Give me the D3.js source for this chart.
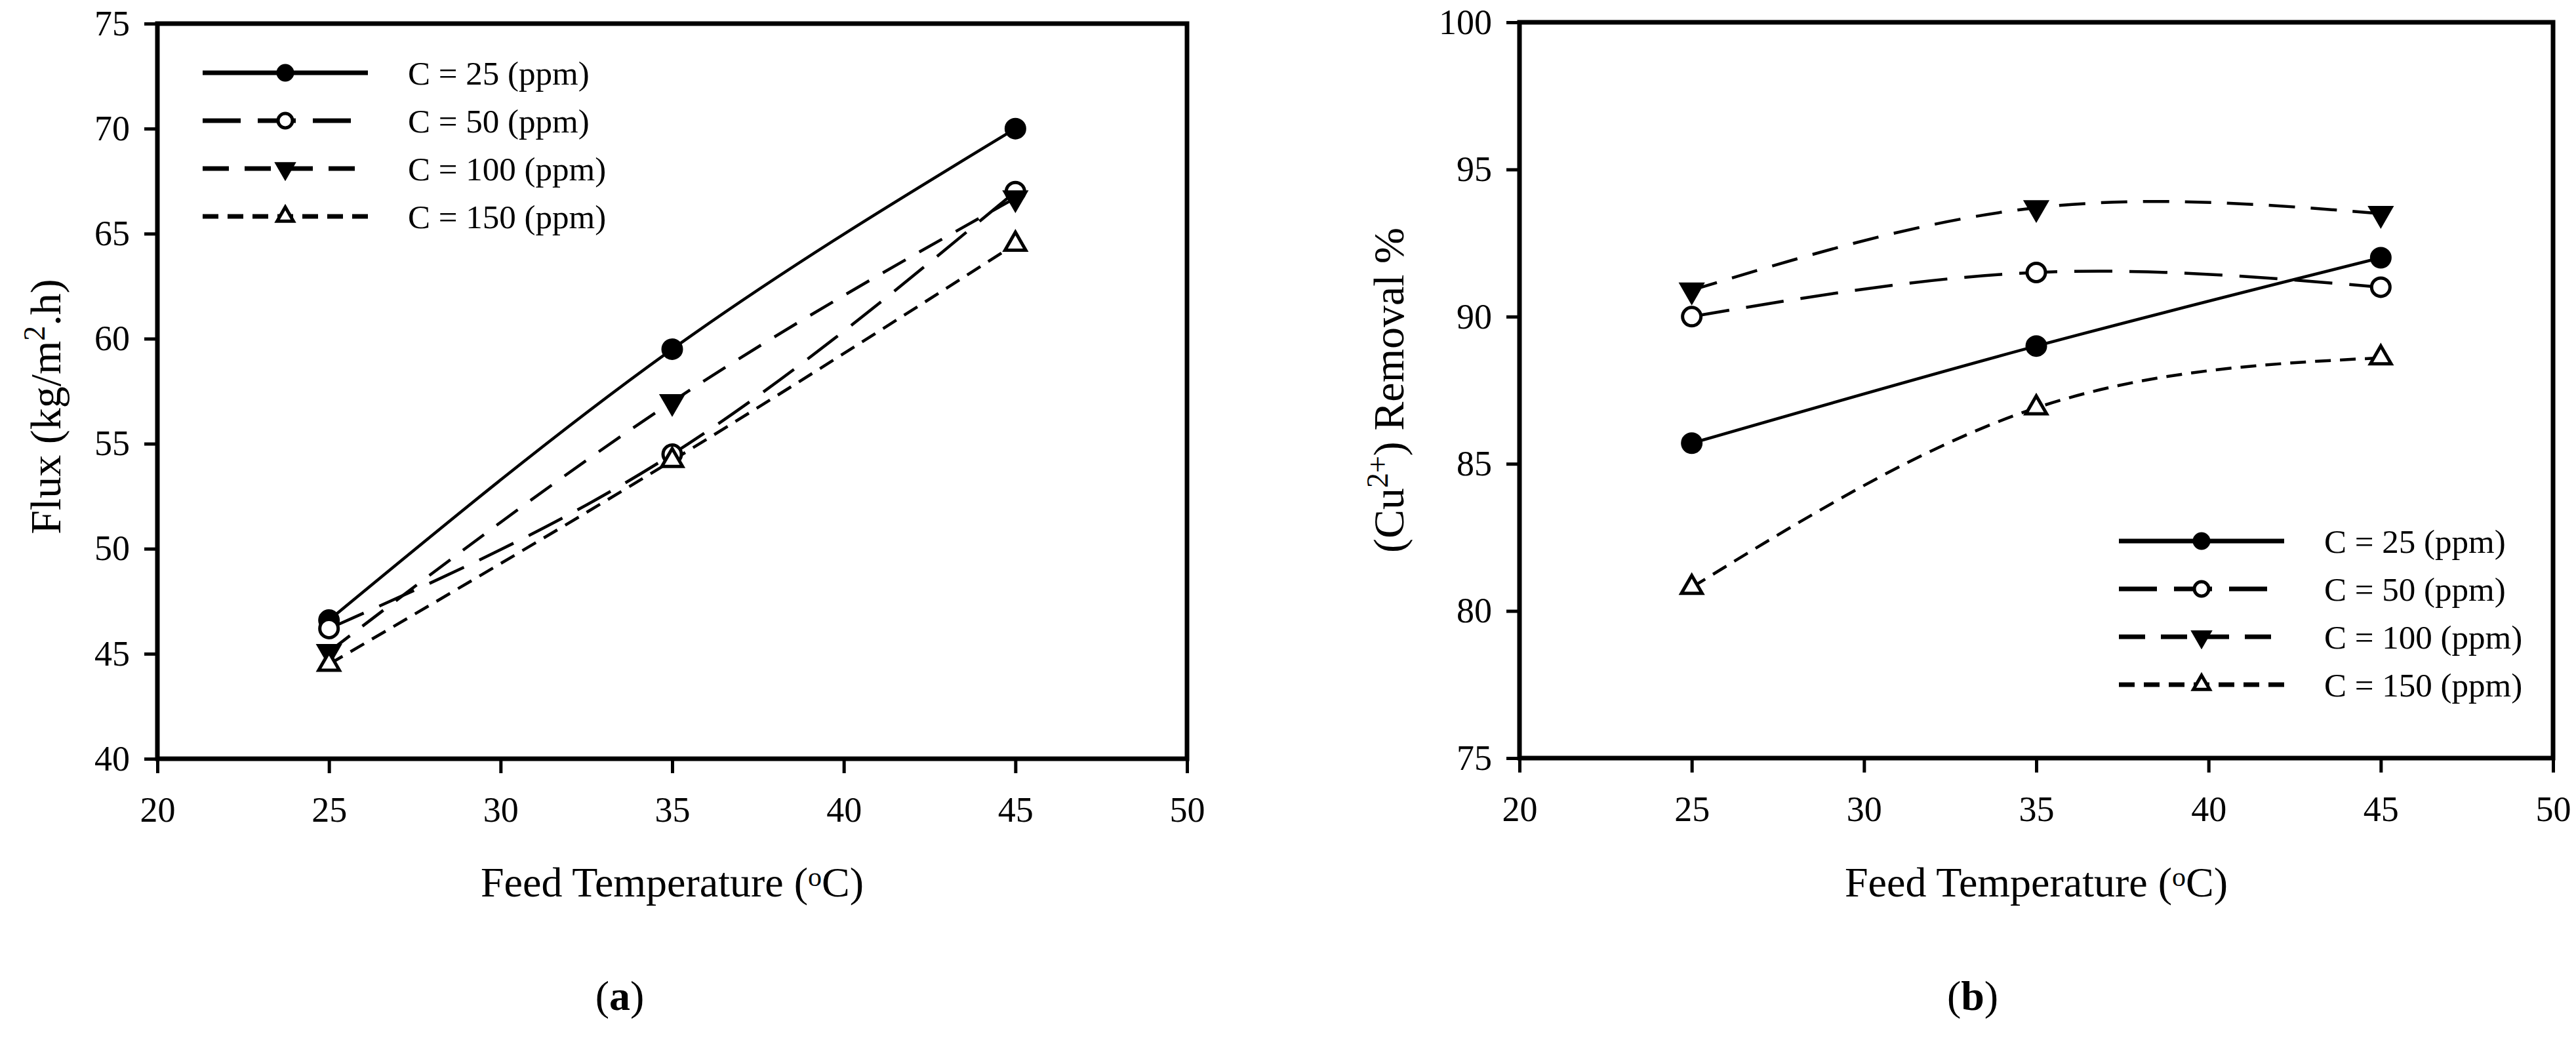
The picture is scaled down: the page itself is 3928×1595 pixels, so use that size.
<!DOCTYPE html>
<html>
<head>
<meta charset="utf-8">
<script src="https://d3js.org/d3.v7.min.js"></script>
<style>
  body { margin: 0; background: #fff; }
  svg { display: block; }
  text { font-family: "Liberation Serif", "Times New Roman", serif; fill: #000; }
</style>
</head>
<body>
<div id="graph"></div>
<script>
// feed temperatures (°C)
var temps = [25, 35, 45];
var seriesNames = ["C = 25 (ppm)", "C = 50 (ppm)", "C = 100 (ppm)", "C = 150 (ppm)"];

// (a) flux, kg/m2.h
var fluxC25  = [46.6, 59.5, 70.0];
var fluxC50  = [46.2, 54.5, 67.0];
var fluxC100 = [45.1, 57.0, 66.7];
var fluxC150 = [44.5, 54.2, 64.5];

// (b) Cu2+ removal %
var remC25  = [85.7, 89.0, 92.0];
var remC50  = [90.0, 91.5, 91.0];
var remC100 = [90.9, 93.7, 93.5];
var remC150 = [80.8, 86.9, 88.6];

var xTicks = [20, 25, 30, 35, 40, 45, 50];
var fluxTicks = [40, 45, 50, 55, 60, 65, 70, 75];
var remTicks = [75, 80, 85, 90, 95, 100];

// line / marker style per series
var styles = [
  {dash: null,    marker: "circle",  fill: "#000"},
  {dash: "58,26", marker: "circle",  fill: "#fff"},
  {dash: "40,24", marker: "triDown", fill: "#000"},
  {dash: "24,14", marker: "triUp",   fill: "#fff"}
];

var W = 3928, H = 1595;
var svg = d3.select("#graph").append("svg")
  .attr("width", W).attr("height", H);

function marker(g, type, fill, x, y, r) {
  if (type === "circle") {
    g.append("circle").attr("cx", x).attr("cy", y).attr("r", r)
      .attr("fill", fill).attr("stroke", "#000").attr("stroke-width", 5);
  } else {
    var sym = d3.symbol().type(d3.symbolTriangle).size(r * r * 2.2);
    g.append("path").attr("d", sym())
      .attr("transform", "translate(" + x + "," + y + ")" + (type === "triDown" ? " rotate(180)" : ""))
      .attr("fill", fill).attr("stroke", "#000").attr("stroke-width", 5);
  }
}

function drawPanel(cfg) {
  var x = d3.scaleLinear().domain([20, 50]).range([cfg.x0, cfg.x1]);
  var y = d3.scaleLinear().domain(cfg.yDomain).range([cfg.yBot, cfg.yTop]);
  var g = svg.append("g");

  // axes
  var xa = g.append("g").attr("transform", "translate(0," + cfg.yBot + ")")
    .call(d3.axisBottom(x).tickValues(xTicks).tickSize(22).tickPadding(36).tickFormat(d3.format("d")));
  var ya = g.append("g").attr("transform", "translate(" + cfg.x0 + ",0)")
    .call(d3.axisLeft(y).tickValues(cfg.yTicks).tickSize(20).tickPadding(22).tickFormat(d3.format("d")));
  [xa, ya].forEach(function(a) {
    a.select(".domain").remove();
    a.selectAll(".tick line").attr("stroke", "#000").attr("stroke-width", 5);
    a.selectAll(".tick text").style("font-size", "54px").attr("fill", "#000");
  });

  // frame
  g.append("rect")
    .attr("x", cfg.x0).attr("y", cfg.yTop)
    .attr("width", cfg.x1 - cfg.x0).attr("height", cfg.yBot - cfg.yTop)
    .attr("fill", "none").attr("stroke", "#000").attr("stroke-width", 7);

  // series
  var line = d3.line()
    .x(function(d) { return x(d[0]); })
    .y(function(d) { return y(d[1]); })
    .curve(d3.curveNatural);

  cfg.series.forEach(function(vals, i) {
    var pts = temps.map(function(t, j) { return [t, vals[j]]; });
    g.append("path").datum(pts).attr("d", line)
      .attr("fill", "none").attr("stroke", "#000").attr("stroke-width", 4.5)
      .attr("stroke-dasharray", styles[i].dash);
  });
  cfg.series.forEach(function(vals, i) {
    temps.forEach(function(t, j) {
      marker(g, styles[i].marker, styles[i].fill, x(t), y(vals[j]), 14);
    });
  });

  // legend
  var lg = g.append("g");
  seriesNames.forEach(function(name, i) {
    var ly = cfg.legY + i * 73;
    lg.append("line")
      .attr("x1", cfg.legX).attr("x2", cfg.legX + 252)
      .attr("y1", ly).attr("y2", ly)
      .attr("stroke", "#000").attr("stroke-width", 7)
      .attr("stroke-dasharray", styles[i].dash);
    marker(lg, styles[i].marker, styles[i].fill, cfg.legX + 126, ly, 11);
    lg.append("text").attr("x", cfg.legX + 313).attr("y", ly + 18)
      .style("font-size", "51px").text(name);
  });

  // x title
  var xt = g.append("text")
    .attr("x", (cfg.x0 + cfg.x1) / 2).attr("y", 1367)
    .attr("text-anchor", "middle").style("font-size", "64px");
  xt.append("tspan").text("Feed Temperature (");
  xt.append("tspan").attr("dy", -16).style("font-size", "42px").text("o");
  xt.append("tspan").attr("dy", 16).text("C)");

  // y title
  var yt = g.append("text")
    .attr("transform", "translate(" + cfg.ytX + "," + cfg.ytY + ") rotate(-90)")
    .attr("text-anchor", "middle").style("font-size", "66px");
  cfg.yTitle(yt);

  // panel label
  var pl = svg.append("text").attr("x", cfg.labX).attr("y", 1540)
    .attr("text-anchor", "middle").style("font-size", "64px");
  pl.append("tspan").text("(");
  pl.append("tspan").style("font-weight", "bold").text(cfg.label);
  pl.append("tspan").text(")");
}

drawPanel({
  x0: 240, x1: 1810, yTop: 36, yBot: 1157,
  yDomain: [40, 75], yTicks: fluxTicks,
  series: [fluxC25, fluxC50, fluxC100, fluxC150],
  legX: 309, legY: 111,
  ytX: 92, ytY: 620,
  yTitle: function(t) {
    t.append("tspan").text("Flux (kg/m");
    t.append("tspan").attr("dy", -24).style("font-size", "46px").text("2");
    t.append("tspan").attr("dy", 24).text(".h)");
  },
  labX: 945, label: "a"
});

drawPanel({
  x0: 2317, x1: 3893, yTop: 34, yBot: 1156,
  yDomain: [75, 100], yTicks: remTicks,
  series: [remC25, remC50, remC100, remC150],
  legX: 3231, legY: 825,
  ytX: 2140, ytY: 595,
  yTitle: function(t) {
    t.append("tspan").text("(Cu");
    t.append("tspan").attr("dy", -24).style("font-size", "46px").text("2+");
    t.append("tspan").attr("dy", 24).text(") Removal %");
  },
  labX: 3008, label: "b"
});
</script>
</body>
</html>
